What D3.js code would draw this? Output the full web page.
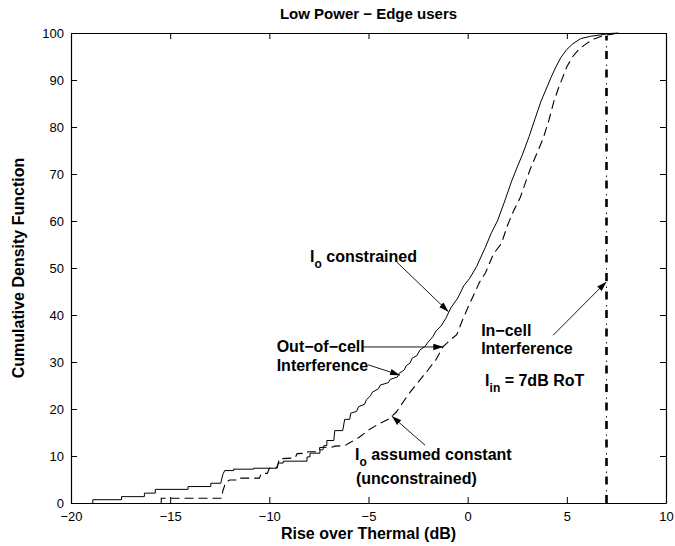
<!DOCTYPE html>
<html>
<head>
<meta charset="utf-8">
<script src="https://cdn.jsdelivr.net/npm/d3@7"></script>
<style>
  body { margin: 0; background: #fff; }
  text { font-family: "Liberation Sans", Arial, Helvetica, sans-serif; }
</style>
</head>
<body>
<script>
// I_o constrained (solid)
const constrainedX = [-18.9, -18.9, -17.45, -17.45, -16.3, -16.3, -15.75, -15.75, -14.1, -14.1,
  -12.95, -12.95, -12.45, -12.35, -12.25, -11.8, -11.8, -10.8, -10.8, -9.65,
  -9.6, -9.55, -9.3, -9.3, -8.1, -8.1, -7.95, -7.95, -7.45, -7.45,
  -7.3, -7.25, -7.1, -7.1, -6.75, -6.7, -6.3, -6.2, -5.95, -5.9,
  -5.6, -5.5, -5.2, -5.1, -4.9, -4.8, -4.5, -4.4, -4.0, -3.9,
  -3.55, -3.45, -3.2, -3.1, -2.9, -2.8, -2.55, -2.4, -2.15, -2.0,
  -1.75, -1.6, -1.35, -1.1, -0.85, -0.5, -0.2, 0.1, 0.45, 0.88,
  1.2, 1.5, 1.85, 2.2, 2.5, 2.75, 3.1, 3.4, 3.7, 4.0,
  4.2, 4.45, 4.7, 5.0, 5.3, 5.7, 6.2, 6.7, 7.2, 7.6]
const constrainedY = [0, 0.7, 0.7, 1.35, 1.35, 2.1, 2.1, 2.9, 2.9, 3.5,
  3.5, 4.2, 4.2, 6.0, 6.9, 6.9, 7.2, 7.2, 7.4, 7.4,
  7.9, 8.5, 8.5, 8.9, 8.9, 9.8, 9.8, 10.6, 10.6, 11.3,
  11.3, 12.2, 12.2, 13.3, 13.3, 15.4, 15.4, 17.8, 17.8, 19.1,
  19.5, 20.5, 21.0, 22.0, 22.8, 23.6, 24.3, 25.1, 25.6, 26.3,
  26.8, 27.6, 28.3, 29.2, 29.8, 30.8, 31.4, 32.6, 33.3, 34.2,
  35.4, 36.6, 37.6, 39.3, 41.5, 43.6, 46.2, 47.8, 50.3, 54.3,
  57.5, 60.0, 64.0, 68.3, 71.5, 74.0, 78.0, 81.8, 85.5, 88.5,
  90.5, 92.8, 94.8, 96.5, 97.7, 98.8, 99.3, 99.6, 99.9, 100]

// I_o assumed constant (dashed)
const unconstrainedX = [-15.45, -15.45, -12.4, -12.35, -12.2, -12.0, -11.65, -11.6, -10.5, -10.4,
  -10.1, -10.0, -9.6, -9.5, -8.7, -8.6, -8.1, -8.05, -7.5, -7.45,
  -6.8, -6.7, -6.2, -5.95, -5.5, -5.0, -4.5, -4.0, -3.85, -3.6,
  -3.3, -2.9, -2.4, -2.0, -1.6, -1.25, -0.9, -0.55, -0.3, 0.0,
  0.3, 0.6, 0.9, 1.3, 1.7, 2.0, 2.3, 2.65, 2.9, 3.15,
  3.45, 3.8, 4.1, 4.35, 4.6, 5.0, 5.3, 5.6, 6.0, 6.4,
  6.8, 7.2, 7.6]
const unconstrainedY = [0, 1.0, 1.0, 2.5, 4.4, 4.9, 4.9, 5.3, 5.3, 6.3,
  6.3, 7.4, 7.5, 9.4, 9.6, 10.5, 10.6, 10.9, 10.9, 11.8,
  11.9, 12.1, 12.2, 12.8, 13.9, 15.5, 16.8, 17.8, 18.4, 19.3,
  21.2, 23.6, 26.2, 28.3, 30.5, 33.2, 34.6, 35.8, 38.5, 41.5,
  44.2, 47.0, 49.0, 53.0, 55.2, 59.0, 62.0, 65.0, 68.0, 71.0,
  74.0, 77.5, 81.5, 85.5, 88.5, 92.8, 95.0, 96.5, 97.8, 98.8,
  99.4, 99.7, 100]

// in-cell interference limit (dash-dot)
const inCellX = [7, 7]
const inCellY = [0, 99.4]

const xTicks = [-20, -15, -10, -5, 0, 5, 10]
const yTicks = [0, 10, 20, 30, 40, 50, 60, 70, 80, 90, 100]

const w = 675
const h = 546
const margin = {top: 33, right: 9, bottom: 43, left: 71}
const iw = w - margin.left - margin.right
const ih = h - margin.top - margin.bottom

const svg = d3.select("body")
  .append("svg")
  .attr("width", w)
  .attr("height", h)

const defs = svg.append("defs")
defs.append("marker")
  .attr("id", "head")
  .attr("markerUnits", "userSpaceOnUse")
  .attr("viewBox", "0 0 10 8")
  .attr("refX", 10)
  .attr("refY", 4)
  .attr("markerWidth", 10)
  .attr("markerHeight", 8)
  .attr("orient", "auto")
  .append("path")
  .attr("d", "M0,0.8 L10,4 L0,7.2 Z")
  .attr("fill", "#000")

const g = svg.append("g")
  .attr("transform", `translate(${margin.left},${margin.top})`)

const xScale = d3.scaleLinear().domain([-20, 10]).range([0, iw])
const yScale = d3.scaleLinear().domain([0, 100]).range([ih, 0])

// axes, matlab style box with inward ticks
const fmt = d3.format("d")
g.append("g")
  .attr("transform", `translate(0,${ih})`)
  .call(d3.axisBottom(xScale).tickValues(xTicks).tickFormat(d => d < 0 ? "\u2212" + Math.abs(d) : d).tickSizeInner(-6).tickSizeOuter(0).tickPadding(9))
g.append("g")
  .call(d3.axisTop(xScale).tickValues(xTicks).tickFormat("").tickSizeInner(-6).tickSizeOuter(0))
g.append("g")
  .call(d3.axisLeft(yScale).tickValues(yTicks).tickFormat(fmt).tickSizeInner(-6).tickSizeOuter(0).tickPadding(7))
g.append("g")
  .attr("transform", `translate(${iw},0)`)
  .call(d3.axisRight(yScale).tickValues(yTicks).tickFormat("").tickSizeInner(-6).tickSizeOuter(0))

g.selectAll(".tick text")
  .attr("font-family", '"Liberation Sans", Arial, sans-serif')
  .attr("font-size", 13)
  .attr("fill", "#000")
g.selectAll(".domain").attr("stroke", "#000").attr("stroke-width", 1.2)
g.selectAll(".tick line").attr("stroke", "#000")

const line = d3.line()
  .x(d => xScale(d[0]))
  .y(d => yScale(d[1]))

const solid = d3.zip(constrainedX, constrainedY)
const dashed = d3.zip(unconstrainedX, unconstrainedY)
const limit = d3.zip(inCellX, inCellY)

g.append("path")
  .datum(solid)
  .attr("d", line)
  .attr("fill", "none")
  .attr("stroke", "#000")
  .attr("stroke-width", 1)

g.append("path")
  .datum(dashed)
  .attr("d", line)
  .attr("fill", "none")
  .attr("stroke", "#000")
  .attr("stroke-width", 1.1)
  .attr("stroke-dasharray", "9,5")

// dash-dot: thick dashes + thin dots
g.append("path")
  .datum(limit)
  .attr("d", line)
  .attr("fill", "none")
  .attr("stroke", "#000")
  .attr("stroke-width", 2.6)
  .attr("stroke-dasharray", "8,10.5")
g.append("path")
  .datum(limit)
  .attr("d", line)
  .attr("fill", "none")
  .attr("stroke", "#000")
  .attr("stroke-width", 0.9)
  .attr("stroke-dasharray", "0,11.5,1.5,5.5")

// annotation arrows: [x1, y1, x2, y2] in data units
const arrows = [
  [-3.58, 51.3, -0.97, 40.7],
  [-5.27, 33.2, -1.23, 33.2],
  [-5.02, 29.4, -3.41, 27.2],
  [-2.15, 12.3, -3.83, 18.5],
  [4.31, 35.7, 7, 47.1]
]
g.selectAll(".arrow")
  .data(arrows)
  .enter()
  .append("line")
  .attr("class", "arrow")
  .attr("x1", d => xScale(d[0]))
  .attr("y1", d => yScale(d[1]))
  .attr("x2", d => xScale(d[2]))
  .attr("y2", d => yScale(d[3]))
  .attr("stroke", "#000")
  .attr("stroke-width", 0.9)
  .attr("marker-end", "url(#head)")

const label = (x, y, anchor) => g.append("text")
  .attr("x", xScale(x))
  .attr("y", yScale(y))
  .attr("text-anchor", anchor)
  .attr("font-size", 16)
  .attr("font-weight", "bold")

let t = label(-7.95, 51.3, "start")
t.append("tspan").text("I")
t.append("tspan").attr("dy", 6).attr("font-size", 12).text("o")
t.append("tspan").attr("dy", -6).text(" constrained")

label(-9.63, 32.1, "start").text("Out\u2212of\u2212cell")
label(-9.63, 28.1, "start").text("Interference")

t = label(2.22, 9.15, "end")
t.append("tspan").text("I")
t.append("tspan").attr("dy", 6).attr("font-size", 12).text("o")
t.append("tspan").attr("dy", -6).text(" assumed constant")
label(0.46, 4.0, "end").text("(unconstrained)")

label(0.68, 35.5, "start").text("In\u2212cell")
label(0.68, 31.7, "start").text("Interference")
t = label(0.88, 24.9, "start")
t.append("tspan").text("I")
t.append("tspan").attr("dy", 6).attr("font-size", 12).text("in")
t.append("tspan").attr("dy", -6).text(" = 7dB RoT")

// titles
svg.append("text")
  .attr("x", margin.left + iw / 2)
  .attr("y", 19)
  .attr("text-anchor", "middle")
  .attr("font-size", 15)
  .attr("font-weight", "bold")
  .text("Low Power \u2212 Edge users")

svg.append("text")
  .attr("x", margin.left + iw / 2)
  .attr("y", 539)
  .attr("text-anchor", "middle")
  .attr("font-size", 16)
  .attr("font-weight", "bold")
  .text("Rise over Thermal (dB)")

svg.append("text")
  .attr("transform", `translate(24,${margin.top + ih / 2}) rotate(-90)`)
  .attr("text-anchor", "middle")
  .attr("font-size", 16)
  .attr("font-weight", "bold")
  .text("Cumulative Density Function")
</script>
</body>
</html>
